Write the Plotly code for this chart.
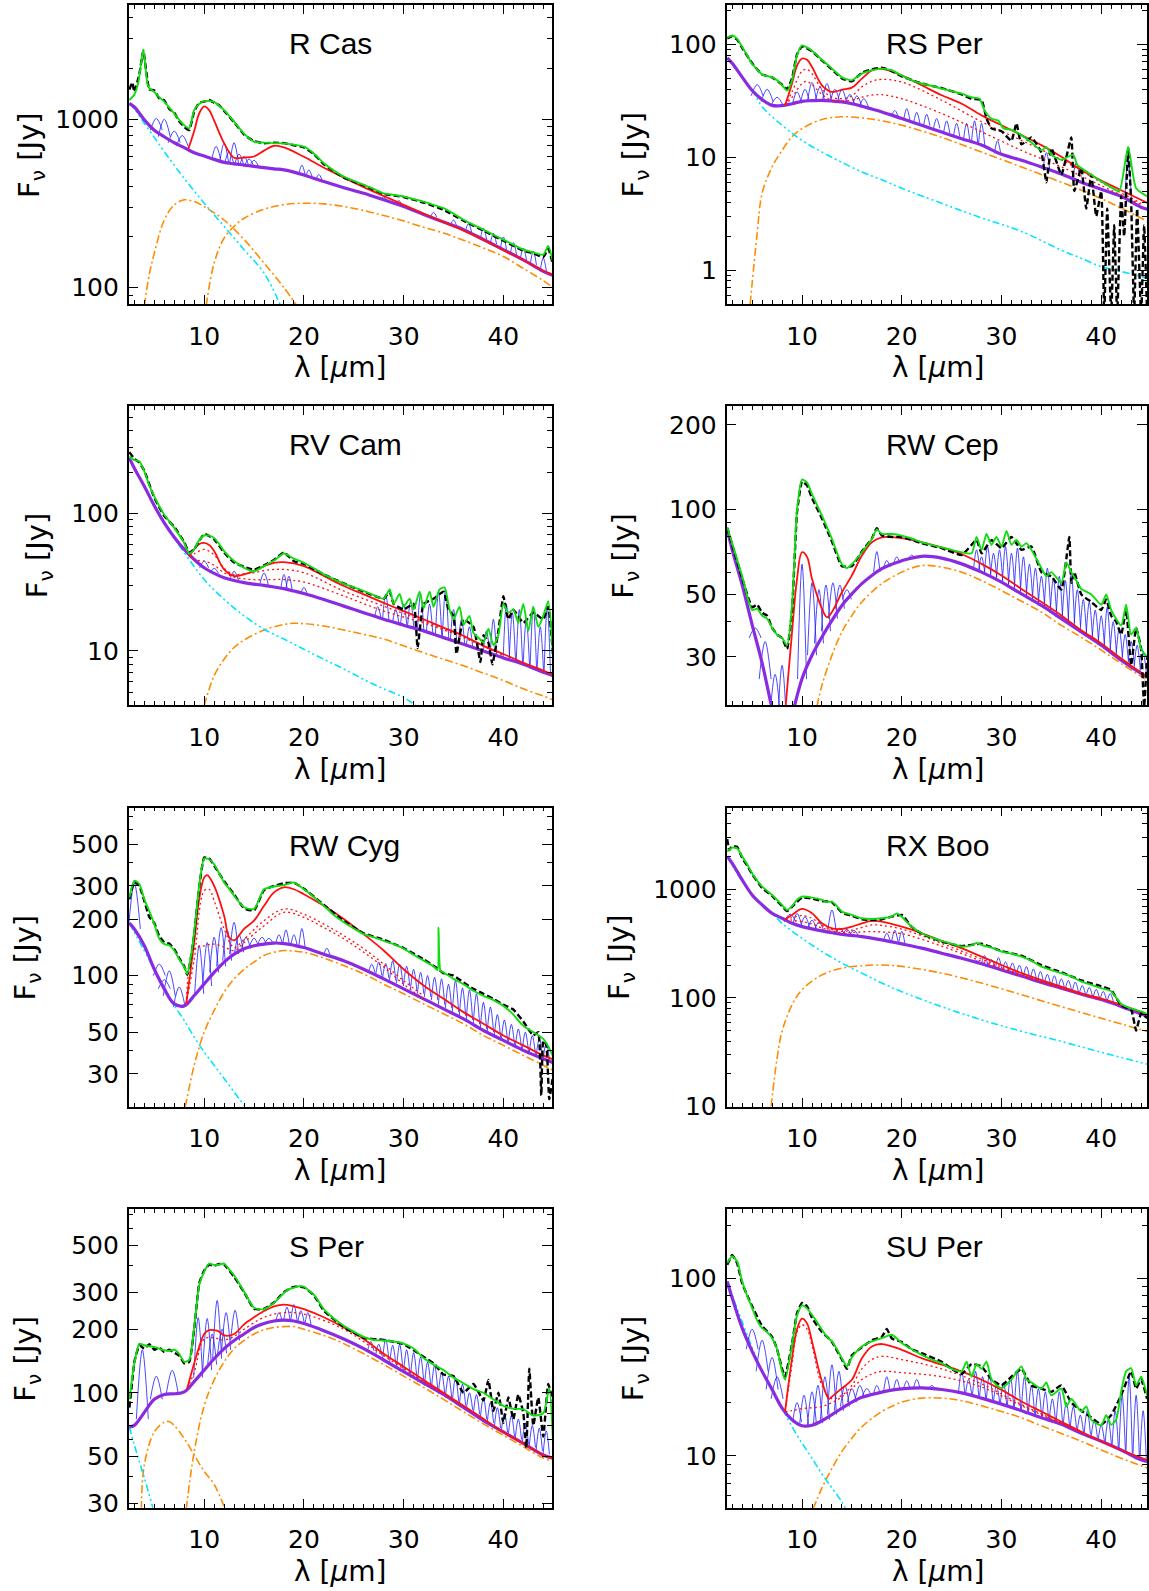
import math
import plotly.graph_objects as go

# ---------------- shared wavelength grid for the continuum (purple) ----------------
WL = [2.5, 3, 4, 5, 6, 7, 8, 9, 10, 11, 12, 13, 14, 15, 16, 17, 18, 19, 20, 22, 24, 26, 28, 30,
      32, 34, 36, 38, 40, 42, 44, 45]

# ================= R Cas =================
R_CAS_PURPLE = [1238, 1180, 990, 860, 786, 724, 677, 632, 604, 577, 554, 543, 534, 524, 515, 507, 500, 485,
                466, 426, 392, 363, 332, 303, 272, 245, 221, 193, 168, 146, 125, 118]
R_CAS_CYAN_X = [2.5, 3, 4, 5, 6, 8, 10, 12, 14, 16, 17.6]
R_CAS_CYAN_Y = [1238, 1150, 943, 780, 641, 445, 317, 231, 168, 122, 80]
R_CAS_OR1_X = [4.0, 4.5, 5, 6, 7, 8, 9, 10, 12, 14, 16, 18, 19.3]
R_CAS_OR1_Y = [78, 120, 160, 252, 310, 332, 324, 303, 252, 193, 140, 100, 78]
R_CAS_OR2_X = [10.2, 11, 12, 13, 14, 16, 18, 20, 22, 24, 26, 28, 30, 32, 34, 36, 38, 40, 42, 44, 45]
R_CAS_OR2_Y = [78, 140, 197, 231, 258, 292, 311, 317, 314, 303, 287, 268, 249, 228, 211, 191, 172, 153, 130, 110, 100]
R_CAS_RED_X = [8.4, 9, 9.5, 10, 10.5, 11, 12, 13, 14, 15, 16, 17, 18, 20, 22, 24, 26, 28, 30, 32, 34, 36, 38, 40, 42, 44, 45]
R_CAS_RED_Y = [662, 850, 1080, 1190, 1130, 980, 720, 590, 592, 600, 650, 695, 680, 598, 515, 450, 395, 350, 310, 275,
               245, 218, 192, 167, 146, 126, 119]
R_CAS_GREEN_X = [2.5, 3, 3.4, 3.9, 4.4, 5, 5.5, 6, 6.5, 7, 7.5, 8, 8.5, 9, 9.5, 10, 10.5, 11, 11.5, 12, 13, 14, 15, 16,
                 17, 18, 19, 20, 21, 22, 23, 24, 25, 26, 27, 28, 29, 30, 31, 32, 33, 34, 35, 36, 37, 38, 39, 40, 41,
                 42, 43, 44, 44.5, 45]
R_CAS_GREEN_Y = [1295, 1400, 1650, 2580, 1550, 1450, 1350, 1270, 1170, 1080, 990, 920, 880, 1130, 1230, 1280, 1280, 1265,
                 1200, 1130, 965, 820, 735, 725, 720, 718, 705, 686, 626, 547, 495, 456, 430, 407, 385, 363, 355, 347,
                 335, 324, 310, 296, 275, 253, 236, 221, 206, 193, 180, 168, 162, 157, 177, 140]
R_CAS_BLACK_X = [2.5, 2.8, 3, 3.5, 3.9, 4.5, 5, 5.5, 6, 6.5, 7, 7.5, 8, 8.5, 9, 9.5, 10, 10.5, 11, 11.5, 12, 13, 14, 15,
                 16, 17, 18, 19, 20, 21, 22, 24, 26, 28, 30, 32, 34, 36, 38, 40, 42, 43, 44, 44.5, 45]
R_CAS_BLACK_Y = [1500, 1650, 1450, 1850, 2550, 1500, 1480, 1330, 1290, 1150, 1090, 970, 900, 860, 1110, 1250, 1270, 1300,
                 1250, 1210, 1120, 960, 810, 740, 720, 725, 720, 700, 680, 620, 540, 450, 405, 360, 345, 320, 290, 250,
                 218, 190, 166, 160, 152, 170, 135]
R_CAS_BLUE_C = [5.2, 6.0, 7.0, 7.8, 11.2, 12.0, 12.5, 13.0, 13.5, 14.0, 14.5, 15.0, 19.8, 20.5, 21.5, 28.0, 29.5, 33.0,
                35.0, 36.5, 38.0, 39.0, 40.0, 41.0, 42.0, 43.0, 44.0]
R_CAS_BLUE_TOP = [1010, 1000, 850, 800, 690, 720, 640, 724, 620, 600, 580, 570, 534, 500, 470, 345, 330, 280, 252, 240,
                  225, 210, 200, 185, 172, 165, 150]
R_CAS_BLUE_BASE = [860, 786, 724, 690, 577, 554, 548, 543, 538, 534, 530, 524, 470, 455, 435, 332, 310, 262, 232, 214,
                   193, 181, 168, 157, 146, 136, 125]

# ================= RS Per =================
RS_PER_PURPLE = [76, 68, 51.3, 39, 32.4, 28.8, 28.7, 29.8, 31.3, 31.7, 31.9, 31.5, 30.9, 29.8, 28.3, 26.7, 25.2, 23.6,
                 22, 19.2, 16.7, 14.6, 12.8, 10.6, 9.4, 8.2, 7.1, 6.0, 5.2, 4.5, 3.6, 3.4]
RS_PER_CYAN_X = [2.5, 4, 5.2, 6, 8, 10, 12, 14, 16, 18, 20, 24, 28, 32, 36, 38, 40, 42, 45]
RS_PER_CYAN_Y = [76, 51.3, 36.6, 28, 19.2, 14.1, 11.1, 9.0, 7.4, 6.3, 5.3, 3.9, 2.9, 2.2, 1.5, 1.27, 1.07, 0.97, 0.83]
RS_PER_OR_X = [4.8, 5.5, 6, 7, 8, 9, 10, 12, 14, 16, 18, 20, 24, 28, 32, 36, 40, 45]
RS_PER_OR_Y = [0.5, 2.1, 4.8, 8.2, 11.5, 15.2, 17.9, 21.6, 22.8, 22.3, 21, 19.2, 15, 11.1, 8.2, 6.0, 4.3, 2.6]
RS_PER_RED_X = [8.3, 9, 9.5, 10, 10.5, 11, 12, 13, 14, 15, 16, 17, 18, 20, 22, 24, 26, 28, 30, 32, 34, 36, 38, 40, 42, 45]
RS_PER_RED_Y = [28.8, 45, 65, 75, 73, 63, 43.4, 37.9, 39.7, 41.4, 49.7, 58.9, 60.8, 53.1, 43.4, 35.4, 29.8, 23.5, 19.2,
                15.7, 12.8, 10.1, 7.7, 6.2, 5.1, 3.8]
RS_PER_DOT_X = [8.3, 9, 10, 10.5, 11, 12, 13, 14, 15, 16, 17, 18, 20, 24, 28, 32, 36, 40, 44]
RS_PER_DOT1_Y = [28.8, 38, 58, 60, 55, 40, 34, 33, 35, 42, 47, 49, 46.4, 32, 20.6, 14.1, 9.5, 6.0, 3.9]
RS_PER_DOT2_Y = [28.8, 34, 45, 47, 44, 36, 32, 31.5, 32, 34, 35.5, 35.8, 33, 24.4, 16.8, 11.5, 8.2, 5.6, 3.8]
RS_PER_GREEN_X = [2.5, 3, 3.5, 4, 4.5, 5, 5.5, 6, 7, 7.5, 8, 8.5, 9, 9.5, 10, 10.5, 11, 11.5, 12, 13, 14, 14.5, 15, 16,
                  17, 18, 19, 20, 21, 22, 23, 24, 25, 26, 27, 27.8, 28.3, 29, 29.7, 30.2, 31, 32, 33, 34, 34.5, 35, 36,
                  37.2, 37.6, 38, 39, 40, 41, 41.8, 42.7, 43.5, 44.6]
RS_PER_GREEN_Y = [115, 120, 112, 95, 80, 67, 60, 54, 51, 48, 43.4, 39, 48, 80, 98, 94, 88, 80, 73, 61, 51, 49, 48, 55,
                  59, 61, 59, 53, 48, 45, 43, 40.5, 38.5, 36.6, 34, 33, 26, 22, 21, 18, 17.5, 15.7, 13.5, 11.5, 12.3,
                  10.5, 9.5, 10.5, 8.5, 8.0, 7.0, 6.1, 5.4, 5.0, 12.3, 5.3, 4.5]
RS_PER_BLACK_X = [2.5, 3, 3.5, 4, 5, 6, 7, 8, 8.5, 9, 9.5, 10, 11, 12, 13, 14, 15, 16, 17, 18, 19, 20, 22, 24, 26, 27,
                  28, 28.5, 29, 30, 31, 31.5, 32, 33, 34, 34.5, 35, 36, 36.5, 37, 37.3, 38, 38.5, 39, 39.5, 40, 40.3,
                  40.6, 41, 41.3, 41.6, 42, 42.3, 42.7, 43, 43.3, 43.6, 44, 44.3, 44.6]
RS_PER_BLACK_Y = [113, 118, 110, 93, 68, 54, 51, 44, 40, 50, 82, 96, 87, 72, 60, 50, 47, 56, 60, 62, 58, 52, 45, 41, 36,
                  33, 32, 22, 18, 17, 14, 20, 13, 15, 11, 6, 12, 7, 10, 15, 5, 8, 3.5, 7, 3, 5, 0.4, 3.5, 0.4, 2.5,
                  0.4, 4.5, 2.0, 12, 4, 0.4, 3.5, 0.4, 2.5, 0.4]
RS_PER_BLUE_C = [5.5, 6.5, 7.5, 9.5, 10.3, 11.0, 11.8, 12.5, 13.3, 14.0, 14.8, 15.5, 16.2, 19.3, 20.5, 21.5, 22.5, 23.5,
                 24.5, 25.5, 26.5, 27.3, 28.0, 29.6, 34.5, 37.5, 42.7]
RS_PER_BLUE_TOP = [44, 40, 34, 38, 40, 46, 42, 45, 40, 40, 36, 35, 33, 26, 27, 25, 24, 22, 21, 20, 20, 21, 20, 14, 11, 9, 10]
RS_PER_BLUE_BASE = [35, 31, 28.8, 30, 31, 31.7, 31.9, 31.7, 31.5, 30.9, 30, 29, 28, 23.3, 21.3, 20, 19, 18, 16.3, 15.2,
                    14, 13.3, 12.8, 10.8, 8, 6.7, 4.4]

# ================= RV Cam =================
RV_CAM_PURPLE = [253, 214, 158, 114, 85.5, 67.3, 54.8, 46.3, 40.3, 36.7, 34.1, 32.6, 31.4, 30.6, 30, 29.2, 28.4, 27.3,
                 26.2, 23.7, 21.2, 19.0, 17.0, 15.4, 14.0, 12.5, 11.2, 10.0, 8.9, 8.0, 7.0, 6.6]
RV_CAM_CYAN_X = [2.5, 4, 6, 8, 10, 12, 14, 16, 18, 20, 22, 24, 26, 28, 30, 31.2]
RV_CAM_CYAN_Y = [253, 158, 85, 52, 33.1, 23.7, 18, 14.4, 12.2, 10.3, 8.7, 7.4, 6.2, 5.3, 4.6, 4.0]
RV_CAM_OR_X = [10, 11, 12, 13, 14, 16, 18, 19, 20, 22, 24, 26, 28, 30, 32, 34, 36, 38, 40, 42, 44, 45]
RV_CAM_OR_Y = [4.0, 6.6, 8.7, 10.6, 12, 14.2, 15.6, 15.9, 15.8, 15.2, 14.2, 13.2, 12.2, 10.9, 9.7, 8.7, 7.8, 6.9, 6.1,
               5.3, 4.7, 4.4]
RV_CAM_RED_X = [8.5, 9, 9.5, 10, 10.5, 11, 12, 13, 14, 15, 16, 17, 18, 20, 22, 24, 26, 28, 30, 32, 34, 36, 38, 40, 42, 44, 45]
RV_CAM_RED_Y = [49, 55, 60, 61.2, 59, 53.3, 39.2, 35.1, 36.1, 38.1, 41.4, 43.8, 44.3, 41.4, 35.1, 29.7, 25.8, 22.4, 19.5,
                17, 14.8, 12.9, 10.9, 9.5, 8.2, 7.2, 6.7]
RV_CAM_DOT_X = [8.5, 9, 10, 11, 12, 13, 14, 15, 16, 17, 18, 20, 24, 28, 32, 36, 40]
RV_CAM_DOT1_Y = [49, 51, 54.8, 50, 40, 36, 36.5, 37, 38.5, 39.2, 39.2, 37.1, 27.3, 21.2, 16.5, 12.7, 9.4]
RV_CAM_DOT2_Y = [49, 46, 45.1, 42, 37, 34.5, 33.5, 33, 33, 33.1, 33.1, 31.7, 25.1, 19.5, 16, 12.5, 9.3]
RV_CAM_GREEN_X = [2.5, 3, 3.5, 4, 4.5, 5, 5.5, 6, 7, 8, 8.5, 9, 9.5, 10, 10.5, 11, 11.5, 12, 13, 14, 15, 16, 17, 18, 19,
                  20, 21, 22, 24, 26, 27, 28, 28.6, 29, 29.6, 30, 30.6, 31, 31.6, 32, 32.6, 33, 33.6, 34.1, 34.6, 35,
                  35.6, 36, 36.6, 37, 37.5, 38, 38.5, 39, 39.5, 40, 40.5, 41, 41.5, 42, 42.5, 43, 43.5, 44, 44.5, 45]
RV_CAM_GREEN_Y = [260, 245, 240, 203, 160, 133, 113, 98, 78.7, 61.2, 51.2, 54.8, 64, 69.2, 69, 66.5, 60, 53.3, 45.1,
                  40.3, 38, 41.4, 45.5, 51.2, 46.9, 43.8, 40, 36.1, 30.9, 27.3, 25.5, 24, 28, 22, 26, 21, 24, 20, 27,
                  20.5, 27, 21, 28, 29, 20, 17, 21, 15.5, 18, 13.5, 12.5, 11.5, 14.5, 11, 13, 22, 19, 20, 16, 22, 14,
                  21, 15, 18, 23, 8.5]
RV_CAM_BLACK_X = [2.5, 3, 3.5, 4, 5, 6, 7, 8, 8.5, 9, 10, 11, 12, 13, 14, 15, 16, 17, 18, 19, 20, 22, 24, 26, 28, 28.6,
                  29, 30, 31, 31.4, 32, 33, 34, 34.5, 35, 35.3, 36, 37, 37.7, 38, 38.5, 38.9, 39.5, 40, 40.5, 41, 42,
                  43, 44, 44.5, 45]
RV_CAM_BLACK_Y = [280, 250, 235, 205, 130, 96, 80, 62, 52, 55, 71, 65, 52, 44, 41, 39, 42, 46, 52, 45, 43, 36, 31, 27,
                  24, 27, 22, 20, 22, 10.5, 22, 24, 27, 20, 18, 9.5, 17, 15, 8.3, 13, 11.5, 8, 14, 25, 17, 20, 16, 19,
                  17, 21, 9]
RV_CAM_BLUE_C = [10, 11, 13, 16, 18, 18.5, 20, 27.4, 28.2, 29.2, 30, 30.7, 31.7, 32.6, 33.5, 34.2, 35, 35.8, 36.6, 38.3,
                 39, 40.3, 40.9, 41.6, 42.3, 43, 43.7, 44.4]
RV_CAM_BLUE_TOP = [45, 40, 38, 37, 36, 35, 29, 21, 26, 20, 22, 23, 26, 22, 27, 28, 20, 17, 15, 14, 17, 22, 19, 20, 17,
                   21, 15, 21]
RV_CAM_BLUE_BASE = [40.3, 36.7, 32.6, 30, 28.4, 28, 26.2, 17.5, 16.8, 16, 15.4, 14.8, 14.2, 13.6, 12.9, 12.4, 11.8,
                    11.3, 10.8, 9.8, 9.5, 8.8, 8.5, 8.2, 7.9, 7.6, 7.3, 7.0]

# ================= RW Cep =================
RW_CEP_PURPLE = [85.4, 72, 54, 39, 28.5, 19.5, 13, 18.5, 25.1, 30.4, 35.3, 40.4, 45.7, 50.2, 54.6, 58.4, 61.7, 64,
                 65.9, 68.3, 67.3, 64.2, 60, 55.3, 50.2, 45.7, 41, 36.8, 33, 29.2, 26.2, 25]
RW_CEP_CYAN_X = [2.5, 4, 5, 6, 7, 8]
RW_CEP_CYAN_Y = [85, 54, 39, 28.5, 19.5, 13]
RW_CEP_OR_X = [11.5, 12, 13, 14, 15, 16, 18, 20, 22, 24, 26, 28, 30, 32, 34, 36, 38, 40, 42, 45]
RW_CEP_OR_Y = [20, 23.8, 30.4, 36.8, 42.1, 47, 54.6, 60, 63.3, 62.5, 60, 56, 51.6, 47.3, 43.3, 38.8, 35.2, 31.7, 28.4, 24.3]
RW_CEP_RED_X = [8.3, 9, 9.5, 10, 10.5, 11, 12, 12.5, 13, 14, 15, 16, 17, 18, 20, 22, 24, 26, 28, 30, 32, 34, 36, 38, 40, 42, 45]
RW_CEP_RED_Y = [19, 36.8, 56.8, 70.6, 68, 56.8, 44.5, 41.5, 43.3, 50.9, 58.4, 68.7, 76.6, 79.8, 79.2, 76.6, 73.5, 69.6,
                64.2, 58.4, 52.3, 47, 42.1, 37.3, 33.5, 29.6, 24.8]
RW_CEP_GREEN_X = [2.5, 3, 4, 5, 5.5, 6, 6.5, 7, 7.5, 8, 8.5, 9, 9.5, 10, 10.5, 11, 12, 13, 14, 14.5, 15, 16, 17, 17.5,
                  18, 19, 20, 21, 22, 23, 24, 25, 26, 27, 27.5, 28, 28.5, 29, 29.5, 30, 30.5, 31, 31.5, 32, 32.5, 33, 34,
                  34.5, 35, 36, 36.5, 37, 37.5, 38, 39, 40, 40.5, 41, 42, 42.5, 43, 43.5, 44, 44.6]
RW_CEP_GREEN_Y = [86.6, 76, 58, 44, 44.5, 42, 41, 38, 36, 35, 33, 45.7, 100, 128, 125, 113.6, 95.2, 78.7, 64, 62, 64,
                  70.6, 78.7, 85, 82, 82, 80.9, 79, 76.6, 75, 73.5, 72, 70.6, 70, 80, 72, 82, 75, 80, 74, 84, 75, 78,
                  74, 76, 72, 62, 58, 60, 55, 65, 60, 56, 52.3, 50, 46, 50, 44, 38.8, 46, 36, 38, 32, 30]
RW_CEP_BLACK_X = [2.5, 3, 4, 5, 5.5, 6, 6.5, 7, 7.5, 8, 8.5, 9, 9.5, 10, 10.5, 11, 12, 13, 14, 15, 16, 17, 17.5, 18, 19,
                  20, 22, 24, 26, 27.5, 28, 29, 30, 31, 32, 33, 34, 35, 36, 36.8, 37, 37.3, 38, 39, 40, 40.5, 41, 41.5,
                  42, 42.5, 43, 43.5, 44, 44.3, 44.6]
RW_CEP_BLACK_Y = [86, 75, 57, 45, 46, 43, 42, 38, 36, 35, 32, 44, 98, 126, 122, 110, 93, 77, 63, 63, 71, 79, 86, 81, 80,
                  80, 76, 73, 69, 78, 70, 78, 73, 80, 72, 74, 60, 58, 52, 80, 55, 60, 50, 47, 44, 48, 42, 40, 36, 44,
                  28, 38, 32, 20, 30]
RW_CEP_BLUE_C = [5.3, 6.3, 7.3, 8.0, 10, 11, 11.7, 12.4, 13.1, 13.8, 14.5, 17.5, 18.5, 19.5, 21, 27.5, 28, 28.6, 29.2,
                 29.8, 30.4, 31, 31.6, 32.2, 32.8, 33.4, 34, 34.6, 35.2, 35.8, 36.4, 37, 37.6, 38.2, 38.8, 39.4, 40,
                 40.6, 41.2, 41.8, 42.4, 43, 43.6, 44.2]
RW_CEP_BLUE_TOP = [38, 34, 26, 28, 64, 55, 52, 54, 55, 54, 52, 71, 66, 68, 69, 72, 68, 74, 70, 72, 74, 70, 73, 68, 64,
                   62, 58, 62, 57, 58, 56, 60, 52, 48, 47, 44, 42, 45, 40, 38, 36, 34, 33, 31]
RW_CEP_BLUE_BASE = [35, 25, 17, 13, 25, 30.4, 33.5, 37, 41, 44.5, 48, 60, 62.5, 64.5, 67, 61, 60, 59, 57.5, 56, 54.5,
                    53, 51.5, 50, 48.5, 47, 45.7, 44.5, 43, 41.5, 40.5, 39.5, 38.5, 36.5, 35.5, 34.5, 33, 32, 31, 30,
                    29, 28, 27, 26.5]

# ================= RW Cyg =================
RW_CYG_PURPLE = [190, 177, 144, 108, 85, 70.7, 69, 78.3, 90.3, 104, 118, 130, 139, 144, 147, 149, 148, 145, 141, 130,
                 120, 108, 96, 85, 75.2, 66.5, 58.8, 51, 45.2, 40, 36.1, 34.4]
RW_CYG_CYAN_X = [2.5, 5, 6.5, 7, 8, 9, 10, 11, 12, 13, 14]
RW_CYG_CYAN_Y = [190, 108, 77, 69.3, 57.7, 47.1, 39.2, 33.3, 28.3, 24, 20.4]
RW_CYG_OR_X = [8.1, 9, 10, 11, 12, 13, 14, 15, 16, 17, 18, 19, 20, 22, 24, 26, 28, 30, 32, 34, 36, 38, 40, 42, 44, 45]
RW_CYG_OR_Y = [20, 33.3, 50, 65.2, 81.6, 96, 108, 118, 128, 133, 136, 135, 133, 124, 113, 102, 90, 80, 70.7, 62.6,
               55.4, 48, 42.5, 37.6, 33.3, 31.3]
RW_CYG_RED_X = [8.2, 9, 9.5, 10, 10.3, 11, 12, 12.5, 13, 14, 15, 16, 17, 18, 19, 20, 22, 24, 26, 28, 30, 32, 34, 36,
                38, 40, 42, 44, 45]
RW_CYG_RED_Y = [70.7, 150, 255, 333, 342, 300, 208, 160, 154, 177, 196, 235, 277, 295, 288, 271, 235, 200, 166, 136,
                108, 88.5, 75.2, 63.9, 55.4, 48, 42.5, 37.6, 35.8]
RW_CYG_DOT1_X = [8.2, 9, 10, 10.5, 11, 12, 13, 14, 16, 18, 20, 22, 24, 26, 28, 30, 32]
RW_CYG_DOT1_Y = [70.7, 122, 283, 288, 250, 177, 141, 156, 196, 226, 212, 188, 163, 139, 115, 94, 78]
RW_CYG_DOT2_X = [8.2, 9, 10, 11, 12, 13, 14, 16, 18, 20, 22, 24, 26, 28, 30, 32]
RW_CYG_DOT2_Y = [70.7, 138, 144, 147, 142, 136, 150, 184, 217, 204, 180, 157, 133, 111, 90, 75]
RW_CYG_GREEN_X = [2.5, 3, 3.5, 4, 4.5, 5, 5.5, 6, 6.5, 7, 7.5, 8, 8.3, 8.6, 9, 9.5, 10, 10.5, 11, 11.5, 12, 12.5, 13,
                  14, 15, 16, 17, 18, 19, 20, 21, 22, 23, 24, 25, 26, 27, 28, 29, 30, 31, 32, 33, 33.4, 33.5, 33.7, 34,
                  35, 36, 37, 38, 39, 40, 41, 42, 43, 44, 44.5, 45]
RW_CYG_GREEN_Y = [260, 320, 307, 255, 220, 188, 157, 147, 145, 136, 122, 111, 102, 120, 170, 300, 420, 416, 391, 350,
                  313, 290, 266, 231, 226, 288, 298, 303, 313, 288, 262, 235, 210, 192, 178, 166, 160, 153, 147, 139,
                  129, 120, 112, 107, 180, 106, 104, 96, 90, 83, 78, 74, 69, 62, 54, 50, 46, 42, 37]
RW_CYG_BLACK_X = [2.5, 3, 3.5, 4, 4.5, 5, 5.5, 6, 6.5, 7, 7.5, 8, 8.3, 8.6, 9, 9.5, 10, 10.5, 11, 12, 13, 14, 15, 16,
                  17, 18, 19, 20, 22, 24, 26, 28, 30, 32, 33.5, 34, 35, 36, 37, 38, 39, 40, 41, 42, 42.5, 43, 43.5,
                  43.8, 44, 44.3, 44.6, 45]
RW_CYG_BLACK_Y = [255, 315, 300, 250, 205, 190, 162, 150, 148, 138, 124, 112, 101, 118, 165, 295, 425, 420, 385, 318,
                  270, 228, 222, 285, 300, 310, 312, 290, 238, 195, 168, 155, 140, 122, 108, 103, 100, 92, 85, 80, 75,
                  70, 66, 57, 52, 48, 50, 23, 45, 43, 22, 30]
RW_CYG_BLUE_C = [3.0, 5.5, 6.0, 6.5, 7.5, 9.5, 10.3, 11, 11.7, 12.3, 13, 13.5, 14.2, 15, 15.8, 16.5, 17.5, 18.2, 19,
                 19.8, 22.3, 26.8, 27.5, 28.2, 28.9, 29.6, 30.3, 31, 31.7, 32.4, 33.1, 33.8, 34.5, 35.2, 35.9, 36.6,
                 37.3, 38, 38.7, 39.4, 40.1, 40.8, 41.5, 42.2, 42.9, 43.6, 44.3]
RW_CYG_BLUE_TOP = [310, 115, 95, 106, 87, 145, 150, 160, 180, 175, 192, 165, 160, 158, 160, 158, 165, 175, 165, 178, 140,
                   115, 118, 116, 120, 115, 112, 108, 104, 100, 98, 96, 90, 94, 86, 84, 80, 72, 68, 62, 58, 55, 52, 50,
                   48, 46, 44]
RW_CYG_BLUE_BASE = [177, 100, 85, 78, 68, 80, 88, 104, 112, 120, 130, 133, 139, 144, 146, 148, 149, 148, 145, 141, 128,
                    104, 100, 97, 94, 91, 88, 84, 80, 77, 74, 70, 67, 64, 61, 58, 55, 52, 50, 47, 45, 43, 41, 39.5, 38,
                    37, 35.5]

# ================= RX Boo =================
RX_BOO_PURPLE = [2000, 1735, 1219, 887, 718, 601, 541, 486, 453, 432, 414, 398, 385, 376, 367, 355, 342, 328, 314, 287,
                 258, 232, 206, 181, 159, 139, 123, 108, 96.5, 83.5, 71, 66]
RX_BOO_CYAN_X = [2.5, 5, 7, 8, 10, 12, 14, 16, 18, 20, 24, 28, 32, 36, 40, 45]
RX_BOO_CYAN_Y = [2000, 887, 601, 486, 354, 267, 209, 169, 137, 114, 83, 62.8, 49.3, 39.7, 31.6, 24]
RX_BOO_OR_X = [6.9, 7.5, 8, 9, 10, 12, 14, 16, 18, 20, 24, 28, 32, 36, 40, 45]
RX_BOO_OR_Y = [10, 27.9, 49.3, 86.4, 118.9, 163, 188, 198, 201, 195, 169, 137, 107, 83, 65, 48]
RX_BOO_RED_X = [8.3, 9, 10, 11, 12, 13, 14, 15, 16, 17, 18, 20, 22, 24, 26, 28, 30, 32, 34, 36, 38, 40, 42, 45]
RX_BOO_RED_Y = [530, 581, 659, 601, 486, 437, 431, 453, 486, 511, 504, 453, 394, 335, 287, 240, 201, 169, 146, 127,
                110, 98.7, 86.4, 68]
RX_BOO_DOT_X = [8.3, 9, 10, 11, 12, 13, 14, 15, 16, 17, 18, 20, 24, 28, 32, 36, 40]
RX_BOO_DOT1_Y = [530, 550, 573, 540, 465, 425, 410, 420, 445, 470, 465, 430, 318, 228, 163, 123, 96]
RX_BOO_DOT2_Y = [530, 520, 504, 480, 440, 415, 400, 400, 405, 408, 405, 390, 300, 218, 160, 122, 96]
RX_BOO_GREEN_X = [2.5, 3, 3.5, 4, 4.5, 5, 6, 7, 8, 8.5, 9, 9.5, 10, 11, 12, 12.5, 13, 13.5, 14, 15, 16, 17, 18, 19,
                  19.5, 20, 20.5, 21, 22, 23, 24, 25, 26, 27, 27.5, 28, 29, 30, 31, 32, 33, 34, 35, 36, 37, 38, 39, 40,
                  40.5, 41, 42, 43, 44, 44.6]
RX_BOO_GREEN_Y = [2220, 2420, 2380, 2000, 1700, 1404, 1058, 887, 718, 645, 700, 800, 856, 838, 798, 760, 770, 700, 623,
                  581, 541, 533, 541, 560, 600, 560, 500, 453, 394, 360, 335, 315, 297, 305, 320, 307, 290, 267, 255,
                  240, 220, 194, 180, 169, 158, 141, 132, 123, 120, 115, 88, 80, 75, 71]
RX_BOO_BLACK_X = [2.5, 2.7, 3, 3.5, 4, 4.5, 5, 6, 7, 8, 8.5, 9, 10, 11, 12, 13, 14, 15, 16, 17, 18, 19, 20, 21, 22, 24,
                  26, 28, 30, 32, 34, 36, 38, 40, 41, 42, 43, 43.5, 44, 44.6]
RX_BOO_BLACK_Y = [2900, 2300, 2500, 2450, 1950, 1650, 1380, 1030, 870, 700, 630, 690, 840, 820, 780, 760, 610, 570, 530,
                  520, 530, 560, 580, 450, 390, 330, 300, 315, 270, 245, 200, 172, 145, 128, 118, 85, 78, 50, 72, 65]
RX_BOO_BLUE_C = [8.8, 9.5, 10.3, 11, 11.7, 13, 13.8, 14.5, 15.2, 18.5, 19.3, 20, 27.5, 28.3, 29, 29.7, 30.4, 31.1, 31.8,
                 32.5, 33.2, 33.9, 34.6, 35.3, 36, 36.7, 37.4, 38.1, 38.8, 39.5, 40.2, 40.9]
RX_BOO_BLUE_TOP = [590, 600, 560, 520, 500, 645, 440, 430, 420, 395, 420, 410, 220, 245, 225, 235, 215, 210, 200, 195,
                   185, 175, 165, 160, 150, 145, 140, 130, 125, 120, 115, 110]
RX_BOO_BLUE_BASE = [500, 470, 450, 432, 420, 398, 388, 380, 376, 340, 330, 314, 212, 204, 195, 186, 178, 170, 161, 153,
                    146, 139, 133, 127, 123, 118, 113, 108, 104, 100, 96, 92]

# ================= S Per =================
S_PER_PURPLE = [68.8, 70, 80.7, 93.1, 98.2, 98.9, 101, 113, 128, 145, 162, 177, 190, 204, 213, 219, 221, 219, 213, 197,
                180, 162, 143, 126, 111, 98.2, 85.2, 73.8, 65.2, 57.5, 50.7, 49]
S_PER_CYAN_X = [2.5, 3, 4, 4.9]
S_PER_CYAN_Y = [68.8, 56.5, 39.5, 28]
S_PER_OR1_X = [3.7, 4, 5, 6, 6.5, 7, 8, 9, 10, 11, 12.1]
S_PER_OR1_Y = [28, 45.6, 65.2, 72.5, 73, 70, 60.7, 50.7, 42.4, 36.8, 28]
S_PER_OR2_X = [8.2, 9, 10, 11, 12, 13, 14, 15, 16, 17, 18, 19, 20, 22, 24, 26, 28, 30, 32, 34, 36, 38, 40, 42, 44, 45]
S_PER_OR2_Y = [28, 52.6, 86.7, 115, 140, 162, 177, 190, 199, 204, 206, 206, 200, 187, 171, 153, 136, 120, 106, 93, 81.3,
               71.2, 62.9, 55.5, 49, 47.3]
S_PER_RED_X = [8.3, 9, 9.5, 10, 10.5, 11, 11.5, 12, 13, 14, 15, 16, 17, 18, 19, 20, 22, 24, 26, 28, 30, 32, 34, 36, 38,
               40, 42, 44, 45]
S_PER_RED_Y = [105, 138, 165, 190, 198, 198, 195, 187, 190, 211, 228, 244, 257, 262, 257, 249, 228, 204, 180, 153, 133,
               115, 100, 86.7, 75.2, 65.2, 57.5, 50.7, 48.6]
S_PER_DOT_X = [8.3, 9, 10, 11, 12, 13, 14, 16, 18, 20, 24, 28, 32, 36]
S_PER_DOT_Y = [105, 125, 180, 182, 178, 185, 200, 228, 240, 236, 200, 150, 113, 86]
S_PER_GREEN_X = [2.5, 2.8, 3, 3.5, 4, 4.5, 5, 5.5, 6, 6.5, 7, 7.5, 8, 8.5, 9, 9.5, 10, 10.5, 11, 11.5, 12, 12.5, 13, 14,
                 15, 16, 17, 18, 18.5, 19, 19.5, 20, 20.5, 21, 22, 23, 24, 25, 26, 27, 28, 29, 30, 31, 32, 33, 34, 35,
                 36, 37, 38, 39, 40, 41, 42, 43, 44, 44.6, 45]
S_PER_GREEN_Y = [93, 120, 138, 171, 168, 166, 165, 162, 159, 158, 160, 153, 140, 143, 204, 325, 375, 410, 403, 405, 410,
                 385, 361, 302, 253, 249, 267, 297, 310, 315, 320, 319, 305, 292, 249, 225, 208, 195, 184, 178, 177, 175,
                 171, 162, 146, 136, 128, 118, 111, 104, 100, 93, 86.7, 84, 83.6, 78, 80, 105, 55]
S_PER_BLACK_X = [2.5, 2.8, 3, 3.5, 4, 4.5, 5, 5.5, 6, 6.5, 7, 7.5, 8, 8.5, 9, 9.5, 10, 10.5, 11, 11.5, 12, 13, 14, 15,
                 16, 17, 18, 19, 20, 21, 22, 24, 26, 28, 30, 32, 33, 34, 35, 36, 37, 38, 38.5, 39, 39.5, 40, 40.5, 41,
                 41.5, 42, 42.3, 42.6, 43, 43.5, 44, 44.5, 45]
S_PER_BLACK_Y = [85, 115, 140, 168, 162, 170, 160, 164, 156, 160, 155, 150, 138, 140, 200, 330, 380, 405, 400, 408, 405,
                 355, 300, 250, 250, 268, 300, 318, 316, 290, 245, 205, 182, 178, 170, 148, 138, 122, 120, 100, 110, 92,
                 115, 82, 100, 72, 95, 75, 98, 80, 55, 130, 70, 95, 62, 110, 90]
S_PER_BLUE_C = [3.8, 5.2, 6.8, 9.4, 10.3, 10.8, 11.3, 11.8, 12.2, 13.1, 17.5, 18.3, 19, 19.7, 20.4, 26.7, 27.5, 28.2,
                28.9, 29.6, 30.3, 31, 31.7, 32.4, 33.1, 33.8, 34.5, 35.2, 35.9, 36.6, 37.3, 38, 38.7, 39.4, 40.1, 40.8,
                41.5, 42.2, 42.9, 43.6, 44.3]
S_PER_BLUE_TOP = [160, 120, 128, 227, 225, 190, 274, 200, 240, 246, 240, 255, 262, 245, 240, 175, 170, 180, 168, 170,
                  160, 155, 148, 140, 135, 125, 120, 118, 110, 100, 98, 95, 90, 85, 80, 78, 75, 72, 70, 68, 66]
S_PER_BLUE_BASE = [75, 93, 99, 118, 128, 136, 145, 154, 160, 177, 219, 221, 220, 216, 210, 158, 150, 143, 137, 130, 124,
                   118, 113, 108, 104, 99, 95, 91, 87, 83, 79, 75, 72, 68, 65, 62, 60, 57, 55, 53, 51]

# ================= SU Per =================
SU_PER_PURPLE = [96.6, 77.8, 52.6, 38.9, 30, 23.7, 18.6, 16, 14.8, 14.9, 15.8, 17.1, 18.6, 20.1, 21.4, 22.2, 22.9, 23.5,
                 23.9, 24.2, 23.7, 22.7, 21.2, 19.6, 18, 16.4, 15.1, 13.4, 12.1, 10.8, 9.5, 9.2]
SU_PER_CYAN_X = [2.5, 6, 8, 9, 10, 11, 12, 13, 14, 14.4]
SU_PER_CYAN_Y = [96.6, 30, 18.6, 14.6, 11.8, 9.7, 7.9, 6.6, 5.5, 5]
SU_PER_OR_X = [11.1, 12, 13, 14, 15, 16, 18, 20, 22, 24, 26, 28, 30, 32, 34, 36, 38, 40, 42, 45]
SU_PER_OR_Y = [5, 6.6, 8.5, 10.6, 12.6, 14.6, 17.8, 20.1, 21.2, 21.2, 20.5, 19.2, 17.8, 16.4, 14.8, 13.4, 12.1, 10.8,
               9.7, 8.4]
SU_PER_RED_X = [8.3, 9, 9.5, 10, 10.5, 11, 12, 12.7, 13, 14, 15, 16, 17, 18, 20, 22, 24, 26, 28, 30, 32, 34, 36, 38, 40,
                42, 45]
SU_PER_RED_Y = [17.8, 35.6, 52, 59.5, 56, 44.3, 26.3, 21, 21.6, 24.1, 26.9, 35.6, 41.5, 42.8, 39.7, 35.6, 32.7, 30,
                26.9, 23.6, 20.3, 17.8, 15.6, 13.7, 12.1, 10.8, 9.3]
SU_PER_DOT1_X = [8.3, 9, 9.5, 10, 10.5, 11, 12, 13, 14, 15, 16, 17, 18, 20, 24, 28, 32, 36, 40]
SU_PER_DOT1_Y = [17.8, 33, 50, 55, 52, 42, 25, 21, 22, 25, 31, 35, 36.5, 35, 31, 25.5, 19.5, 15.3, 12.1]
SU_PER_DOT2_X = [8.3, 9, 10, 11, 12, 13, 14, 15, 16, 17, 18, 20, 24, 28, 32, 36, 40]
SU_PER_DOT2_Y = [17.8, 18, 18.5, 18.7, 19, 20, 21.5, 24, 27, 29, 30, 29.5, 28, 24.5, 19.2, 15.2, 12.1]
SU_PER_GREEN_X = [2.5, 3, 3.5, 4, 4.5, 5, 5.5, 6, 6.5, 7, 7.5, 8, 8.3, 9, 9.5, 10, 10.5, 11, 11.5, 12, 12.5, 13, 13.5,
                  14, 14.5, 15, 15.5, 16, 17, 18, 19, 20, 21, 22, 23, 24, 25, 26, 26.5, 27, 27.5, 28, 28.5, 29, 30, 31,
                  32, 32.5, 33, 34, 34.5, 35, 36, 36.5, 37, 38, 38.5, 39, 40, 40.5, 41, 41.5, 42, 42.5, 43, 43.5, 44,
                  44.6]
SU_PER_GREEN_Y = [122.6, 133.8, 125, 96.6, 80, 68.3, 58, 52.6, 50, 46.2, 40, 30, 26.9, 42.4, 62, 70.7, 68, 62.6, 57,
                  51.5, 47, 44.3, 40, 35.6, 32, 36, 39, 41.5, 44.3, 46.2, 48.3, 43.4, 40, 37.2, 35, 33.4, 31, 30, 34, 28,
                  33, 31, 34, 27, 24.1, 27, 32, 27, 26, 24, 26, 22, 24, 19, 21, 17.8, 19, 16, 14.9, 17, 15, 16, 23.1, 30,
                  31.3, 25, 28, 22]
SU_PER_BLACK_X = [2.5, 3, 3.5, 4, 5, 6, 7, 7.5, 8, 8.3, 9, 9.5, 10, 10.5, 11, 12, 13, 14, 14.5, 15, 16, 17, 18, 18.5,
                  19, 20, 21, 22, 24, 25, 26, 27, 28, 29, 30, 31, 32, 33, 34, 35, 36, 37, 38, 39, 40, 41, 42, 43, 43.5,
                  44, 44.6]
SU_PER_BLACK_Y = [120, 136, 122, 94, 70, 54, 47, 40, 31, 28, 43, 64, 73, 70, 60, 50, 44, 35, 31, 37, 41, 45, 47, 52, 46,
                  44, 40, 38, 34, 31, 29, 33, 32, 27, 25, 28, 31, 25, 24, 23, 25, 20, 18, 16.5, 15, 17, 22, 30, 24, 27, 21]
SU_PER_BLUE_C = [5, 6, 7, 7.5, 9.5, 10.2, 11, 11.6, 12.3, 13, 13.7, 14.3, 15, 15.8, 16.5, 17.5, 18.5, 19.5, 20.5, 21.5,
                 23, 26, 26.7, 27.4, 28.1, 28.8, 29.5, 30.2, 30.9, 31.6, 32.3, 33, 33.7, 34.4, 35.1, 35.8, 36.5, 37.2,
                 37.9, 38.6, 39.3, 40, 40.7, 41.4, 42.1, 42.8, 43.5, 44.2]
SU_PER_BLUE_TOP = [52, 45, 36, 28, 20, 22, 23, 25, 28, 32.7, 30, 25, 24, 25, 24, 25, 28, 27, 26.5, 27, 25, 30, 27, 30,
                   28, 29, 25, 26, 28, 30, 28, 25, 24, 23, 21, 23, 20, 19, 17, 18, 16, 15, 16, 18, 22, 28, 22, 18]
SU_PER_BLUE_BASE = [40, 30, 23.7, 21, 15.5, 14.8, 14.9, 15.3, 16, 17.1, 18, 19, 20.1, 21.2, 21.8, 22.6, 23.2, 23.7, 24,
                    24.2, 24, 22.7, 22.2, 21.7, 21.2, 20.7, 20, 19.4, 18.9, 18.3, 17.8, 17.3, 16.7, 16.2, 15.8, 15.3,
                    14.8, 14.3, 13.6, 13.2, 12.7, 12.1, 11.7, 11.2, 10.8, 10.4, 10, 9.6]

# ---------------- panel table ----------------
PANELS = [
    dict(name="R Cas", ylim=(80, 4750), yt=[100, 1000], purple=R_CAS_PURPLE,
         cyan=(R_CAS_CYAN_X, R_CAS_CYAN_Y),
         orange=[(R_CAS_OR1_X, R_CAS_OR1_Y), (R_CAS_OR2_X, R_CAS_OR2_Y)],
         red=(R_CAS_RED_X, R_CAS_RED_Y), dots=[],
         green=(R_CAS_GREEN_X, R_CAS_GREEN_Y), black=(R_CAS_BLACK_X, R_CAS_BLACK_Y),
         blue=(R_CAS_BLUE_C, R_CAS_BLUE_TOP, R_CAS_BLUE_BASE)),
    dict(name="RS Per", ylim=(0.5, 223), yt=[1, 10, 100], purple=RS_PER_PURPLE,
         cyan=(RS_PER_CYAN_X, RS_PER_CYAN_Y),
         orange=[(RS_PER_OR_X, RS_PER_OR_Y)],
         red=(RS_PER_RED_X, RS_PER_RED_Y),
         dots=[(RS_PER_DOT_X, RS_PER_DOT1_Y), (RS_PER_DOT_X, RS_PER_DOT2_Y)],
         green=(RS_PER_GREEN_X, RS_PER_GREEN_Y), black=(RS_PER_BLACK_X, RS_PER_BLACK_Y),
         blue=(RS_PER_BLUE_C, RS_PER_BLUE_TOP, RS_PER_BLUE_BASE)),
    dict(name="RV Cam", ylim=(4.03, 603), yt=[10, 100], purple=RV_CAM_PURPLE,
         cyan=(RV_CAM_CYAN_X, RV_CAM_CYAN_Y),
         orange=[(RV_CAM_OR_X, RV_CAM_OR_Y)],
         red=(RV_CAM_RED_X, RV_CAM_RED_Y),
         dots=[(RV_CAM_DOT_X, RV_CAM_DOT1_Y), (RV_CAM_DOT_X, RV_CAM_DOT2_Y)],
         green=(RV_CAM_GREEN_X, RV_CAM_GREEN_Y), black=(RV_CAM_BLACK_X, RV_CAM_BLACK_Y),
         blue=(RV_CAM_BLUE_C, RV_CAM_BLUE_TOP, RV_CAM_BLUE_BASE)),
    dict(name="RW Cep", ylim=(20.2, 233), yt=[30, 50, 100, 200], purple=RW_CEP_PURPLE,
         cyan=(RW_CEP_CYAN_X, RW_CEP_CYAN_Y),
         orange=[(RW_CEP_OR_X, RW_CEP_OR_Y)],
         red=(RW_CEP_RED_X, RW_CEP_RED_Y), dots=[],
         green=(RW_CEP_GREEN_X, RW_CEP_GREEN_Y), black=(RW_CEP_BLACK_X, RW_CEP_BLACK_Y),
         blue=(RW_CEP_BLUE_C, RW_CEP_BLUE_TOP, RW_CEP_BLUE_BASE)),
    dict(name="RW Cyg", ylim=(20.1, 783), yt=[30, 50, 100, 200, 300, 500], purple=RW_CYG_PURPLE,
         cyan=(RW_CYG_CYAN_X, RW_CYG_CYAN_Y),
         orange=[(RW_CYG_OR_X, RW_CYG_OR_Y)],
         red=(RW_CYG_RED_X, RW_CYG_RED_Y),
         dots=[(RW_CYG_DOT1_X, RW_CYG_DOT1_Y), (RW_CYG_DOT2_X, RW_CYG_DOT2_Y)],
         green=(RW_CYG_GREEN_X, RW_CYG_GREEN_Y), black=(RW_CYG_BLACK_X, RW_CYG_BLACK_Y),
         blue=(RW_CYG_BLUE_C, RW_CYG_BLUE_TOP, RW_CYG_BLUE_BASE)),
    dict(name="RX Boo", ylim=(10, 5650), yt=[10, 100, 1000], purple=RX_BOO_PURPLE,
         cyan=(RX_BOO_CYAN_X, RX_BOO_CYAN_Y),
         orange=[(RX_BOO_OR_X, RX_BOO_OR_Y)],
         red=(RX_BOO_RED_X, RX_BOO_RED_Y),
         dots=[(RX_BOO_DOT_X, RX_BOO_DOT1_Y), (RX_BOO_DOT_X, RX_BOO_DOT2_Y)],
         green=(RX_BOO_GREEN_X, RX_BOO_GREEN_Y), black=(RX_BOO_BLACK_X, RX_BOO_BLACK_Y),
         blue=(RX_BOO_BLUE_C, RX_BOO_BLUE_TOP, RX_BOO_BLUE_BASE)),
    dict(name="S Per", ylim=(28.5, 745), yt=[30, 50, 100, 200, 300, 500], purple=S_PER_PURPLE,
         cyan=(S_PER_CYAN_X, S_PER_CYAN_Y),
         orange=[(S_PER_OR1_X, S_PER_OR1_Y), (S_PER_OR2_X, S_PER_OR2_Y)],
         red=(S_PER_RED_X, S_PER_RED_Y),
         dots=[(S_PER_DOT_X, S_PER_DOT_Y)],
         green=(S_PER_GREEN_X, S_PER_GREEN_Y), black=(S_PER_BLACK_X, S_PER_BLACK_Y),
         blue=(S_PER_BLUE_C, S_PER_BLUE_TOP, S_PER_BLUE_BASE)),
    dict(name="SU Per", ylim=(5.1, 248), yt=[10, 100], purple=SU_PER_PURPLE,
         cyan=(SU_PER_CYAN_X, SU_PER_CYAN_Y),
         orange=[(SU_PER_OR_X, SU_PER_OR_Y)],
         red=(SU_PER_RED_X, SU_PER_RED_Y),
         dots=[(SU_PER_DOT1_X, SU_PER_DOT1_Y), (SU_PER_DOT2_X, SU_PER_DOT2_Y)],
         green=(SU_PER_GREEN_X, SU_PER_GREEN_Y), black=(SU_PER_BLACK_X, SU_PER_BLACK_Y),
         blue=(SU_PER_BLUE_C, SU_PER_BLUE_TOP, SU_PER_BLUE_BASE)),
]

X_TICKS = [10, 20, 30, 40]

# ---------------- styling / layout ----------------
W, H = 1149, 1591
KY = 1.0078          # compensates the slight vertical squeeze seen in the rendered page
COL_PX = [(128.9, 553.2), (727.8, 1149.0)]
ROW_PX = [(5.1, 304.5), (407.0, 706.4), (809.0, 1108.4), (1210.9, 1510.3)]
X_RANGES = [(2.43, 44.9), (2.43, 44.59)]
YTITLE_X = [30.5, 636, 38.6, 626, 27.4, 622, 27.4, 636]
TITLE_X = [287, 886]

PURPLE = "#8a2be2"
BLUE = "#1a1aff"
RED = "#ff1010"
GREEN = "#10dd10"
CYAN = "#00e5ff"
ORANGE = "#ff8c00"
TICKFONT = dict(family="DejaVu Sans", size=25, color="black")


def pair(x, y):
    n = min(len(x), len(y))
    return list(x[:n]), list(y[:n])


def bumps(c, top, base):
    xs, ys = [], []
    for ci, ti, bi in zip(c, top, base):
        hw = 0.6 if ci < 9 else (0.45 if ci < 17 else 0.32)
        xs += [ci - hw, ci, ci + hw, None]
        ys += [bi, ti, bi, None]
    return xs, ys


def yminor(lo, hi, major):
    vals = []
    for e in range(math.floor(math.log10(lo)) - 1, math.ceil(math.log10(hi)) + 1):
        for d in range(1, 10):
            v = d * 10 ** e
            if lo <= v <= hi and all(abs(v - m) > 1e-6 * v for m in major):
                vals.append(v)
    return vals


def py(v):
    """pixel row (reference) -> paper fraction"""
    return 1 - (v * KY) / H


fig = go.Figure()
layout = dict(width=W, height=H, margin=dict(l=0, r=0, t=0, b=0), showlegend=False,
              paper_bgcolor="white", plot_bgcolor="white")
annotations = []

for i, p in enumerate(PANELS):
    col, row = i % 2, i // 2
    sfx = "" if i == 0 else str(i + 1)
    xa, ya = "x" + sfx, "y" + sfx

    def add(x, y, color, width, dash="solid", smoothing=1.0, shape="spline"):
        x, y = pair(x, y)
        fig.add_trace(go.Scatter(x=x, y=y, mode="lines", xaxis=xa, yaxis=ya, hoverinfo="skip",
                                 line=dict(color=color, width=width, dash=dash, shape=shape,
                                           smoothing=smoothing)))

    for ox, oy in p["orange"]:
        add(ox, oy, ORANGE, 1.6, "8px,3px,2px,3px")
    add(*p["cyan"], CYAN, 1.6, "7px,3px,2px,3px,2px,3px")
    bx, by = bumps(*p["blue"])
    add(bx, by, BLUE, 0.8)
    add(WL, p["purple"], PURPLE, 3.2)
    for dx, dy in p["dots"]:
        add(dx, dy, RED, 1.3, "2px,3px")
    add(*p["red"], RED, 1.8)
    add(*p["black"], "black", 2.4, "6px,3px", smoothing=0.4)
    add(*p["green"], GREEN, 1.9, smoothing=0.6)

    x0, x1 = COL_PX[col]
    t, b = ROW_PX[row]
    xdom = [x0 / W, min(x1 / W, 1.0)]
    ydom = [py(b), py(t)]
    lo, hi = p["ylim"]

    layout["xaxis" + sfx] = dict(
        domain=xdom, range=list(X_RANGES[col]), anchor=ya,
        showline=True, linecolor="black", linewidth=1.5, mirror="ticks",
        ticks="inside", ticklen=9, tickwidth=1.3, tickcolor="black",
        tickvals=X_TICKS, ticktext=[str(v) for v in X_TICKS], tickfont=TICKFONT,
        ticklabelstandoff=9,
        minor=dict(tickvals=[v for v in range(3, 45) if v not in X_TICKS], ticks="inside",
                   ticklen=4, tickwidth=1, tickcolor="black", showgrid=False),
        showgrid=False, zeroline=False, fixedrange=True)
    layout["yaxis" + sfx] = dict(
        domain=ydom, type="log", range=[math.log10(lo), math.log10(hi)], anchor=xa,
        showline=True, linecolor="black", linewidth=1.5, mirror="ticks",
        ticks="inside", ticklen=10, tickwidth=1.3, tickcolor="black",
        tickvals=p["yt"], ticktext=[str(v) for v in p["yt"]], tickfont=TICKFONT,
        ticklabelstandoff=3,
        minor=dict(tickvals=yminor(lo, hi, p["yt"]), ticks="inside", ticklen=5, tickwidth=1,
                   tickcolor="black", showgrid=False),
        showgrid=False, zeroline=False, fixedrange=True)

    # star name
    annotations.append(dict(x=TITLE_X[col] / W, y=py(t + 38), xref="paper", yref="paper",
                            text=p["name"], showarrow=False, xanchor="left", yanchor="middle",
                            font=dict(family="Liberation Sans, Arial", size=30, color="black")))
    # x title
    annotations.append(dict(x=((x0 + x1) / 2 if col == 0 else (x0 + 1152) / 2) / W,
                            y=py(b + 64), xref="paper", yref="paper",
                            text="λ [<i>μ</i>m]", showarrow=False, xanchor="center", yanchor="middle",
                            font=dict(family="DejaVu Sans", size=28, color="black")))
    # y title
    annotations.append(dict(x=YTITLE_X[i] / W, y=py((t + b) / 2), xref="paper", yref="paper",
                            text="F<sub>ν</sub> [Jy]", showarrow=False, textangle=-90,
                            xanchor="center", yanchor="middle",
                            font=dict(family="DejaVu Sans", size=29, color="black")))

layout["annotations"] = annotations
fig.update_layout(**layout)
fig.write_html("out.html")
